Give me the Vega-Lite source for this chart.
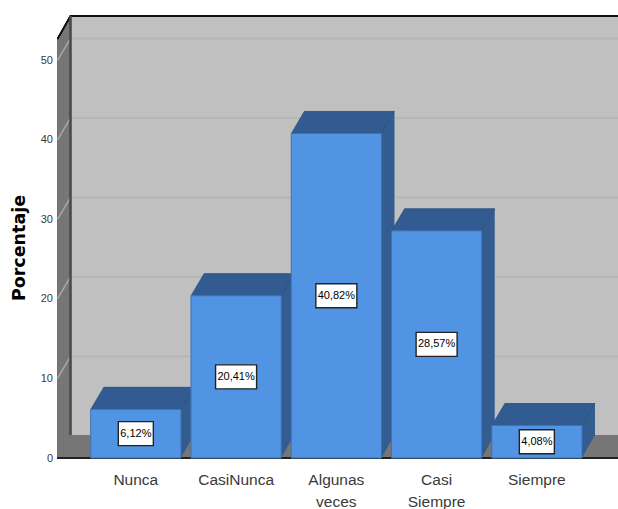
{
  "$schema": "https://vega.github.io/schema/vega-lite/v6.json",
  "width": 560.5,
  "height": 419,
  "autosize": "none",
  "padding": {"left": 57.5, "top": 39, "right": 0, "bottom": 51},
  "background": "white",
  "view": {"stroke": null},
  "data": {"values": [
    {"categoria": "Nunca", "porcentaje": 6.12, "etiqueta": "6,12%"},
    {"categoria": "CasiNunca", "porcentaje": 20.41, "etiqueta": "20,41%"},
    {"categoria": "Algunas veces", "porcentaje": 40.82, "etiqueta": "40,82%"},
    {"categoria": "Casi Siempre", "porcentaje": 28.57, "etiqueta": "28,57%"},
    {"categoria": "Siempre", "porcentaje": 4.08, "etiqueta": "4,08%"}
  ]},
  "datasets": {"marcas": [{"nivel": 10}, {"nivel": 20}, {"nivel": 30}, {"nivel": 40}, {"nivel": 50}]},
  "encoding": {
    "x": {
      "field": "categoria",
      "type": "nominal",
      "sort": null,
      "scale": {"range": [28.2, 529.5], "paddingInner": 0.1, "paddingOuter": 0.05},
      "axis": {
        "title": null,
        "labelAngle": 0,
        "ticks": false,
        "domain": false,
        "labelFont": "Liberation Sans",
        "labelFontSize": 15.5,
        "labelColor": "#3a3a3a",
        "labelLineHeight": 22,
        "labelPadding": 14,
        "labelExpr": "split(datum.value, ' ')"
      }
    },
    "y": {
      "field": "porcentaje",
      "type": "quantitative",
      "scale": {"domain": [0, 52.7], "nice": false},
      "axis": {
        "title": "Porcentaje",
        "values": [0, 10, 20, 30, 40, 50],
        "grid": false,
        "ticks": false,
        "domainColor": "#111111",
        "domainWidth": 2,
        "labelFont": "Liberation Sans",
        "labelFontSize": 11,
        "labelColor": "#3a3a3a",
        "labelPadding": 5,
        "titleFont": "DejaVu Sans",
        "titleFontSize": 17.5,
        "titleFontWeight": "bold",
        "titleColor": "#000000",
        "titleX": -29,
        "titleY": 208.5
      }
    }
  },
  "layer": [
    {
      "mark": {"type": "rect", "fill": "#c0c0c0", "yOffset": -22, "y2Offset": -22},
      "encoding": {
        "x": {"value": 13},
        "x2": {"value": 560.5},
        "y": {"datum": 0},
        "y2": {"datum": 52.7}
      }
    },
    {
      "mark": {"type": "rule", "stroke": "#b6b6b6", "strokeWidth": 2, "yOffset": -22},
      "data": {"name": "marcas"},
      "encoding": {"x": {"value": 13}, "x2": {"value": 560.5}, "y": {"field": "nivel", "type": "quantitative"}}
    },
    {
      "mark": {"type": "point", "shape": "M0,0 L13,-23 L13,-442 L0,-419 Z", "size": 4, "filled": true, "fill": "#767676", "opacity": 1},
      "encoding": {"x": {"value": 0}, "y": {"datum": 0}}
    },
    {
      "mark": {"type": "point", "shape": "M0,0 L13,-23 L561,-23 L561,0 Z", "size": 4, "filled": true, "fill": "#767676", "opacity": 1},
      "encoding": {"x": {"value": 0}, "y": {"datum": 0}}
    },
    {
      "mark": {"type": "point", "shape": "M0,0 L561,0", "size": 4, "filled": false, "stroke": "#222222", "strokeWidth": 2, "opacity": 1},
      "encoding": {"x": {"value": 0}, "y": {"datum": 0}}
    },
    {
      "mark": {"type": "point", "shape": "M0,0 L13,-22", "size": 4, "filled": false, "stroke": "#a8a8a8", "strokeWidth": 1.5, "opacity": 1},
      "data": {"name": "marcas"},
      "encoding": {"x": {"value": 0}, "y": {"field": "nivel", "type": "quantitative"}}
    },
    {
      "mark": {"type": "point", "shape": "M0,-419 L13,-442 L561,-442", "size": 4, "filled": false, "stroke": "#111111", "strokeWidth": 1.5, "opacity": 1},
      "encoding": {"x": {"value": 0}, "y": {"datum": 0}}
    },
    {
      "mark": {"type": "point", "shape": "M13,-442 L13,-23", "size": 4, "filled": false, "stroke": "#4a4a4a", "strokeWidth": 1.5, "opacity": 1},
      "encoding": {"x": {"value": 0}, "y": {"datum": 0}}
    },
    {
      "mark": {"type": "bar", "fill": "#335c90", "xOffset": 13, "x2Offset": 13, "yOffset": -22, "y2Offset": -22},
      "encoding": {"y": {"field": "porcentaje", "type": "quantitative"}}
    },
    {
      "mark": {"type": "point", "shape": "M45,0 L58,-23 L45,-23 Z", "size": 4, "filled": true, "fill": "#335c90", "opacity": 1},
      "encoding": {"y": {"datum": 0}}
    },
    {
      "mark": {"type": "point", "shape": "M-45,0 L45,0 L58,-22 L-32,-22 Z", "size": 4, "filled": true, "fill": "#325c91", "stroke": "#2c5282", "strokeWidth": 0.8, "opacity": 1},
      "encoding": {"y": {"field": "porcentaje", "type": "quantitative"}}
    },
    {
      "mark": {"type": "bar", "fill": "#5294e4", "stroke": "#3f72b0", "strokeWidth": 1},
      "encoding": {"y": {"field": "porcentaje", "type": "quantitative"}}
    },
    {
      "transform": [{"calculate": "datum.porcentaje / 2", "as": "centro"}],
      "layer": [
        {
          "mark": {"type": "point", "size": 4, "filled": true, "fill": "white", "stroke": "#222222", "strokeWidth": 1.4, "opacity": 1},
          "encoding": {
            "y": {"field": "centro", "type": "quantitative"},
            "shape": {"condition": {"test": "datum.porcentaje < 10", "value": "M-17.5,-12 L17.5,-12 L17.5,12 L-17.5,12 Z"}, "value": "M-20.5,-12 L20.5,-12 L20.5,12 L-20.5,12 Z"}
          }
        },
        {
          "mark": {"type": "text", "font": "Liberation Sans", "fontSize": 11, "fill": "#000000"},
          "encoding": {
            "y": {"field": "centro", "type": "quantitative"},
            "text": {"field": "etiqueta", "type": "nominal"}
          }
        }
      ]
    }
  ]
}
